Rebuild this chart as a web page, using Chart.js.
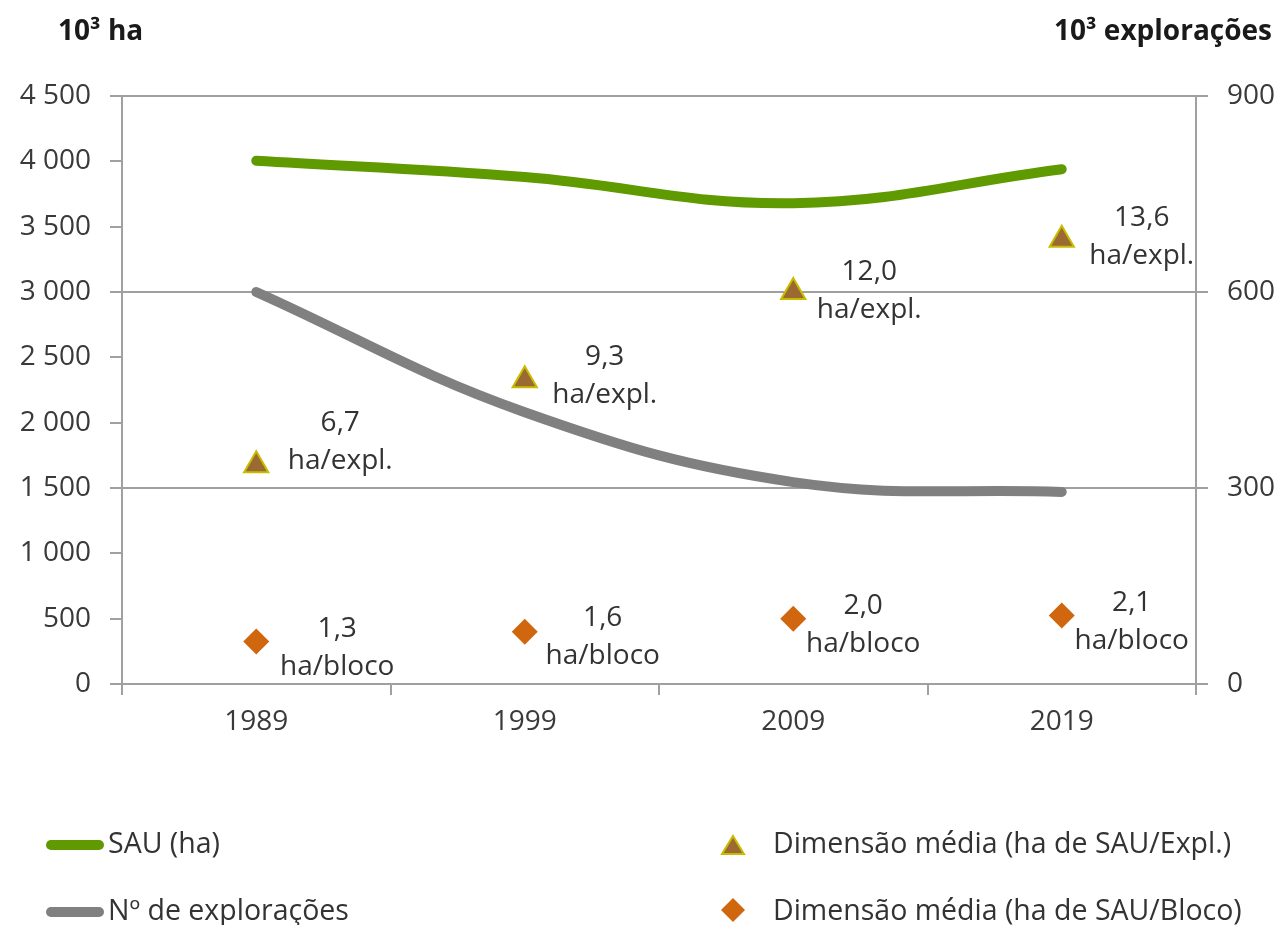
<!DOCTYPE html>
<html lang="pt">
<head>
<meta charset="utf-8">
<title>SAU e explorações</title>
<script src="https://cdn.jsdelivr.net/npm/chart.js@4.4.1/dist/chart.umd.min.js"></script>
<style>
  html, body { margin: 0; padding: 0; background: #fff; }
  body { width: 1286px; height: 925px; position: relative; overflow: hidden; font-family: "Open Sans", sans-serif; }
  #wrap { position: absolute; left: 0; top: 0; width: 1286px; height: 925px; }
  .titulo { position: absolute; top: 10px; font-weight: bold; font-size: 28px; color: #1a1a1a; }
  .legenda { position: absolute; font-size: 28.5px; color: #333; line-height: 36px; white-space: nowrap; }
  .linha { display: inline-block; width: 58px; height: 10px; border-radius: 5px; vertical-align: middle; margin-right: 4px; }
  .marca { display: inline-block; width: 26px; vertical-align: middle; margin-right: 27px; text-align: center; }
</style>
</head>
<body>
<div id="wrap"><canvas id="grafico" width="1286" height="925"></canvas></div>

<div class="titulo" style="left:58px">10³ ha</div>
<div class="titulo" style="right:14px">10³ explorações</div>

<div class="legenda" style="left:46px; top:824px"><span class="linha" style="background:#5f9a00"></span>SAU (ha)</div>
<div class="legenda" style="left:46px; top:891px"><span class="linha" style="background:#808080"></span>Nº de explorações</div>
<div class="legenda" style="left:720px; top:824px"><span class="marca"><svg width="26" height="22"><polygon points="13,2 24,20 2,20" fill="#9a6a32" stroke="#c8bc00" stroke-width="2"/></svg></span>Dimensão média (ha de SAU/Expl.)</div>
<div class="legenda" style="left:720px; top:891px"><span class="marca"><svg width="26" height="26"><polygon points="13,1 25,13 13,25 1,13" fill="#d0660e"/></svg></span>Dimensão média (ha de SAU/Bloco)</div>

<script>
// Dados do gráfico
const anos = ['1989', '1999', '2009', '2019'];
const sau = [4005, 3880, 3680, 3940];              // 10^3 ha
const exploracoes = [600, 416, 309, 294];         // 10^3 explorações
const dimExpl = [6.7, 9.3, 12.0, 13.6];           // ha de SAU / exploração
const dimBloco = [1.3, 1.6, 2.0, 2.1];            // ha de SAU / bloco
const ticksEsq = [0, 500, 1000, 1500, 2000, 2500, 3000, 3500, 4000, 4500];
const ticksDir = [0, 300, 600, 900];

const corEixo = '#a0a0a0';
const corTexto = '#3a3a3a';
const fonte = "'Open Sans', sans-serif";

function milhar(v) {
  return String(v).replace(/\B(?=(\d{3})+(?!\d))/g, ' ');
}

// deslocamentos das etiquetas junto aos marcadores
const etiquetasCfg = {
  2: { unidade: 'ha/expl.', dx: [84, 80, 76, 80], dy: [-42, -23, -20, -22] },
  3: { unidade: 'ha/bloco', dx: [81, 78, 70, 70], dy: [-13, -14, -13, -12] }
};

const pluginEtiquetas = {
  id: 'etiquetas',
  afterDatasetsDraw(chart) {
    const ctx = chart.ctx;
    ctx.save();
    ctx.font = "28px " + fonte;
    ctx.fillStyle = '#333';
    ctx.textAlign = 'center';
    ctx.textBaseline = 'middle';
    Object.keys(etiquetasCfg).forEach(idx => {
      const cfg = etiquetasCfg[idx];
      const meta = chart.getDatasetMeta(idx);
      const valores = chart.data.datasets[idx].data;
      meta.data.forEach((pt, i) => {
        const x = pt.x + cfg.dx[i];
        const y = pt.y + cfg.dy[i];
        ctx.fillText(valores[i].toFixed(1).replace('.', ','), x, y);
        ctx.fillText(cfg.unidade, x, y + 38);
      });
    });
    ctx.restore();
  }
};

new Chart(document.getElementById('grafico'), {
  type: 'line',
  data: {
    labels: anos,
    datasets: [
      {
        label: 'SAU (ha)',
        data: sau,
        yAxisID: 'y',
        borderColor: '#5f9a00',
        borderWidth: 10,
        borderCapStyle: 'round',
        pointRadius: 0,
        tension: 0.4,
        fill: false
      },
      {
        label: 'Nº de explorações',
        data: exploracoes,
        yAxisID: 'y1',
        borderColor: '#808080',
        borderWidth: 10,
        borderCapStyle: 'round',
        pointRadius: 0,
        tension: 0.4,
        fill: false
      },
      {
        label: 'Dimensão média (ha de SAU/Expl.)',
        data: dimExpl,
        yAxisID: 'yDim',
        showLine: false,
        pointStyle: 'triangle',
        pointRadius: 14,
        pointBackgroundColor: '#9a6a32',
        pointBorderColor: '#c8bc00',
        pointBorderWidth: 2
      },
      {
        label: 'Dimensão média (ha de SAU/Bloco)',
        data: dimBloco,
        yAxisID: 'yDim',
        showLine: false,
        pointStyle: 'rectRot',
        pointRadius: 13,
        pointBackgroundColor: '#d0660e',
        pointBorderColor: '#d0660e',
        pointBorderWidth: 0
      }
    ]
  },
  options: {
    responsive: false,
    animation: false,
    layout: { padding: { top: 96, left: 0, right: 0, bottom: 0 } },
    plugins: {
      legend: { display: false },
      tooltip: { enabled: false }
    },
    scales: {
      x: {
        offset: true,
        grid: {
          offset: true,
          drawOnChartArea: false,
          drawTicks: true,
          tickLength: 11,
          color: corEixo,
          lineWidth: 2
        },
        border: { color: corEixo, width: 2 },
        ticks: { color: corTexto, font: { family: fonte, size: 28 }, padding: 10 },
        afterFit(scale) { scale.height = 241; }
      },
      y: {
        position: 'left',
        min: 0,
        max: 4500,
        afterBuildTicks(scale) { scale.ticks = ticksEsq.map(v => ({ value: v })); },
        grid: { drawOnChartArea: false, tickLength: 12, color: corEixo, lineWidth: 2 },
        border: { color: corEixo, width: 2 },
        ticks: {
          color: corTexto,
          font: { family: fonte, size: 28 },
          padding: 19,
          callback: v => milhar(v)
        },
        afterFit(scale) { scale.width = 122; }
      },
      y1: {
        position: 'right',
        min: 0,
        max: 900,
        afterBuildTicks(scale) { scale.ticks = ticksDir.map(v => ({ value: v })); },
        grid: { drawOnChartArea: true, tickLength: 12, color: corEixo, lineWidth: 2 },
        border: { color: corEixo, width: 2 },
        ticks: { color: corTexto, font: { family: fonte, size: 28 }, padding: 19 },
        afterFit(scale) { scale.width = 90; }
      },
      yDim: {
        display: false,
        min: 0,
        max: 18
      }
    }
  },
  plugins: [pluginEtiquetas]
});
</script>
</body>
</html>
